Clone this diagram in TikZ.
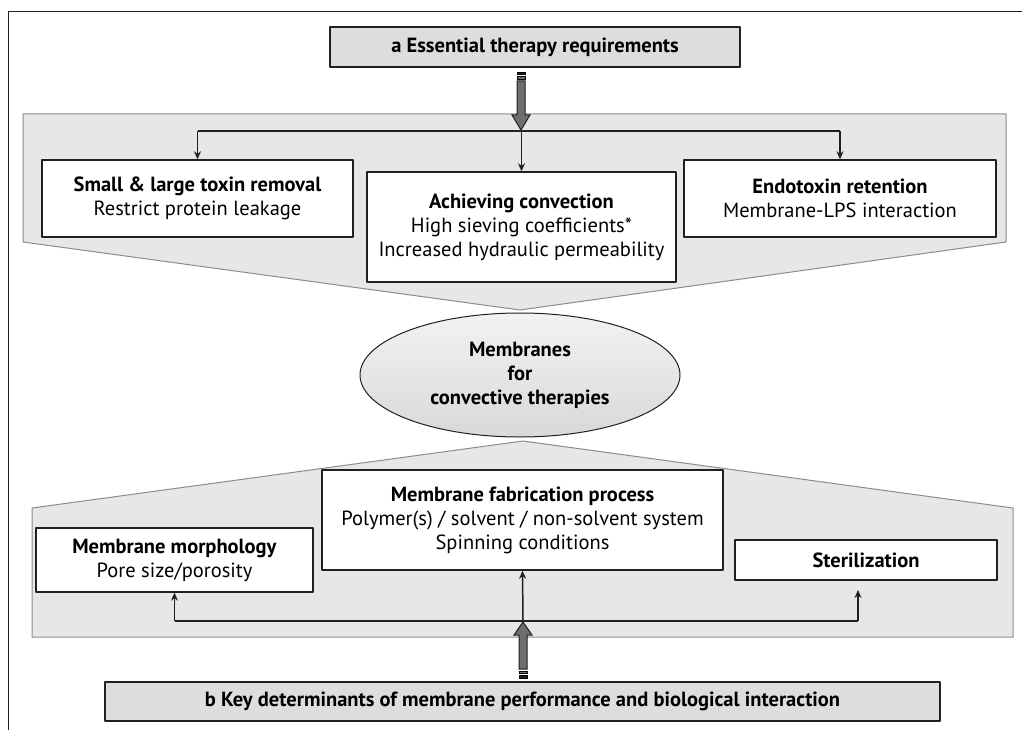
\documentclass[tikz,border=0pt]{standalone}
\usepackage{fontspec}
\setmainfont{PT Sans}
\usetikzlibrary{shapes.geometric,arrows.meta}
\definecolor{ink}{HTML}{231F20}
\definecolor{panel}{HTML}{E6E7E8}
\definecolor{hdr}{HTML}{DCDDDE}
\definecolor{edge}{HTML}{8A8C8E}
\definecolor{fatgray}{HTML}{6D6E70}
\tikzset{
	box/.style={draw=ink,line width=1.5pt,fill=white,align=center,inner sep=0pt,font=\fontsize{20.5}{24}\selectfont},
	header/.style={box,fill=hdr,font=\fontsize{20.5}{24}\selectfont\bfseries},
	panelshape/.style={fill=panel,draw=edge,line width=1pt},
	link/.style={draw=ink,line width=1.5pt,->},
	wire/.style={draw=ink,line width=1.5pt},
	fat/.style={fill=fatgray,draw=ink,line width=1pt,line join=miter}
}
\begin{document}
\begin{tikzpicture}[x=1pt,y=-1pt,>={Stealth[length=8pt,width=7pt]},line join=round]
	\useasboundingbox (0,0) rectangle (1022,730);
	\draw[ink,line width=1pt] (1022,12)--(8,12)--(8,730);
	\path
	(521,72) coordinate (fatA)
	(521,131) coordinate (topsplit)
	(523,678) coordinate (fatB)
	(523,621) coordinate (botsplit)
	(858,590) coordinate (sterfoot)
	;
	\path[panelshape] (23,114)--(1006,114)--(1006,242)--(520,310)--(23,242)--cycle;
	\path[panelshape] (32,637)--(32,508)--(523,441)--(1013,508)--(1013,637)--cycle;
	\node[header,minimum width=410pt,minimum height=40pt] (req) at (535,47) {a Essential therapy requirements};
	\node[box,minimum width=311pt,minimum height=77pt] (toxin) at (197.5,198.5) {\textbf{Small \& large toxin removal}\\Restrict protein leakage};
	\node[box,minimum width=309pt,minimum height=110pt] (conv) at (521.5,227) {\textbf{Achieving convection}\\High sieving coefficients*\\Increased hydraulic permeability};
	\node[box,minimum width=312pt,minimum height=77pt] (endo) at (840,198.5) {\textbf{Endotoxin retention}\\Membrane-LPS interaction};
	\node[ellipse,draw=ink,line width=1pt,minimum width=320pt,minimum height=124pt,top color=gray!10,middle color=gray!45,bottom color=gray!30,align=center,inner sep=0pt,font=\fontsize{20.5}{24}\selectfont\bfseries] (mem) at (520,375) {Membranes\\for\\convective therapies};
	\node[box,minimum width=277pt,minimum height=64pt] (morph) at (174.5,560) {\textbf{Membrane morphology}\\Pore size/porosity};
	\node[box,minimum width=401pt,minimum height=100pt] (fab) at (522.5,520) {\textbf{Membrane fabrication process}\\Polymer(s) / solvent / non-solvent system\\Spinning conditions};
	\node[box,minimum width=262pt,minimum height=40pt,font=\fontsize{20.5}{24}\selectfont\bfseries] (ster) at (866,560) {Sterilization};
	\node[header,minimum width=835pt,minimum height=39pt] (key) at (522.5,701.5) {b Key determinants of membrane performance and biological interaction};
	\draw[wire] (topsplit -| toxin.north)--(topsplit -| endo.north);
	\foreach \b in {toxin,conv,endo}\draw[link] (topsplit -| \b.north)--(\b.north);
	\draw[wire] (botsplit -| morph.south)--(botsplit -| sterfoot);
	\draw[link] (botsplit -| morph.south)--(morph.south);
	\draw[link] (botsplit)--(fab.south);
	\draw[link] (botsplit -| sterfoot)--(sterfoot);
	\draw[fill=ink,line width=0.6pt] (fatA)++(-4,0) rectangle ++(8,2.5);
	\draw[fill=fatgray,line width=0.6pt] (fatA)++(-4,4.5) rectangle ++(8,2.5);
	\draw[fat] (fatA)++(-4,9)--++(8,0)--++(0,34)--++(5,0)--++(-9,15)--++(-9,-15)--++(5,0)--cycle;
	\draw[fill=ink,line width=0.6pt] (fatB)++(-4,0) rectangle ++(8,-2.5);
	\draw[fill=fatgray,line width=0.6pt] (fatB)++(-4,-4.5) rectangle ++(8,-2.5);
	\draw[fat] (fatB)++(-4,-9)--++(8,0)--++(0,-34)--++(5,0)--++(-9,-13)--++(-9,13)--++(5,0)--cycle;
\end{tikzpicture}
\end{document}
